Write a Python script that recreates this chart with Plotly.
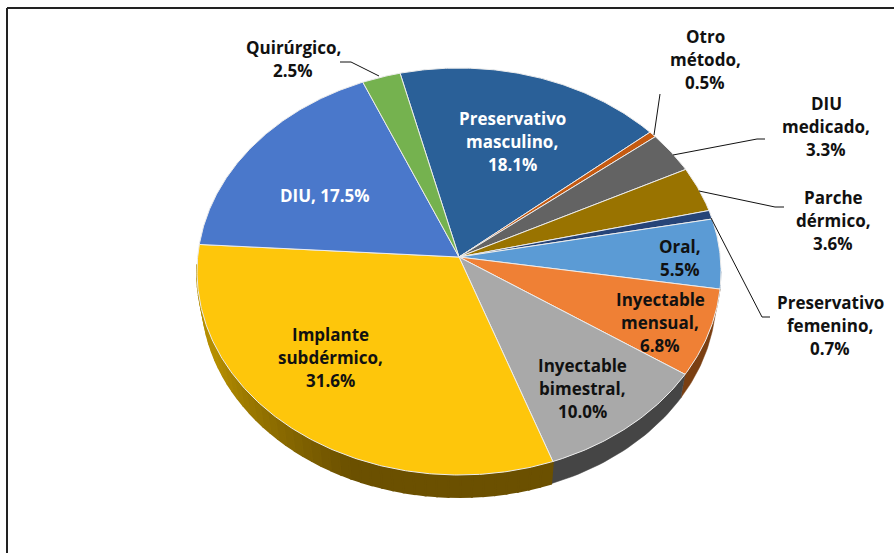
import numpy as np
import plotly.graph_objects as go

# Data (clockwise from the top)
categories = ["Preservativo masculino", "Otro método", "DIU medicado", "Parche dérmico",
              "Preservativo femenino", "Oral", "Inyectable mensual", "Inyectable bimestral",
              "Implante subdérmico", "DIU", "Quirúrgico"]
values = [18.1, 0.5, 3.3, 3.6, 0.7, 5.5, 6.8, 10.0, 31.6, 17.5, 2.5]
top_colors = ["#2a6098", "#c55a11", "#636363", "#997300", "#264478", "#5b9bd5",
              "#ef8035", "#a9a9a9", "#fec60b", "#4a78cb", "#75b24f"]
side_colors = ["#1a3c60", "#7a380a", "#3c3c3c", "#5c4500", "#16294a", "#37608a",
               "#7a3f12", "#454545", "#6b5000", "#2c4a80", "#45702c"]
label_texts = ["Preservativo<br>masculino,<br>18.1%", "Otro<br>método,<br>0.5%", "DIU<br>medicado,<br>3.3%",
               "Parche<br>dérmico,<br>3.6%", "Preservativo<br>femenino,<br>0.7%", "Oral,<br>5.5%",
               "Inyectable<br>mensual,<br>6.8%", "Inyectable<br>bimestral,<br>10.0%",
               "Implante<br>subdérmico,<br>31.6%", "DIU, 17.5%", "Quirúrgico,<br>2.5%"]
label_x = [512, 705, 826, 833, 830, 680, 660, 582, 330, 325, 293]
label_y = [141, 59, 126, 220, 325, 258, 322, 388, 357, 195, 59]
label_colors = ["white", "#111111", "#111111", "#111111", "#111111", "#111111",
                "#111111", "#111111", "#111111", "white", "#111111"]
leaders = [
    [(340, 62), (351, 62), (379, 76)],
    [(660, 94), (654, 135)],
    [(765, 139), (757, 139), (673, 155)],
    [(784, 207), (775, 207), (699, 191)],
    [(770, 317), (762, 317), (711, 218)],
]

# Projection of the tilted disc
APEX = (459, 257)
CX, CY, A, B = 459, 271.5, 262, 203.5      # top rim
CXB, CYB, AB, BB = 459, 297, 257, 200      # bottom rim
START = -13.0
LINE_STEP = 23


def perspective(u):
    """Pie angle (deg from start) -> projected rim parameter (deg)."""
    u = np.asarray(u, dtype=float)
    d = np.where(u < 200, -6.2 * np.sin(np.pi * u / 200), 2.6 * np.sin(np.pi * (u - 200) / 160))
    return START + u + d


def rim(theta, cx=CX, cy=CY, a=A, b=B):
    r = np.radians(theta)
    return cx + a * np.sin(r), cy - b * np.cos(r)


def shade(hex1, hex2, f):
    c1 = np.array([int(hex1[i:i + 2], 16) for i in (1, 3, 5)])
    c2 = np.array([int(hex2[i:i + 2], 16) for i in (1, 3, 5)])
    c = (c1 + (c2 - c1) * f).round().astype(int)
    return "#%02x%02x%02x" % tuple(c)


fig = go.Figure()
cum = np.concatenate([[0], np.cumsum(values)])
cum = cum / cum[-1] * 360

# Side walls
for i, cat in enumerate(categories):
    u0, u1 = cum[i], cum[i + 1]
    gradient = cat.startswith("Implante")
    n = 48 if gradient else 1
    edges = perspective(np.linspace(u0, u1, n + 1))
    for j in range(n):
        t0, t1 = max(edges[j], 90), min(edges[j + 1], 272)
        if t1 <= t0:
            continue
        ts = np.linspace(t0, t1, 30 if not gradient else 4)
        xt, yt = rim(ts)
        xb, yb = rim(ts, CXB, CYB, AB, BB)
        color = side_colors[i]
        if gradient:
            f = np.clip(((t0 + t1) / 2 - 205) / 45, 0, 1)
            color = shade(side_colors[i], "#b58e00", f)
        fig.add_trace(go.Scatter(x=np.r_[xt, xb[::-1], xt[0]], y=np.r_[yt, yb[::-1], yt[0]],
                                 mode="lines", fill="toself", fillcolor=color,
                                 line=dict(color=color, width=2 if gradient else 0.5),
                                 hoverinfo="skip", showlegend=False))

# Top faces
for i, cat in enumerate(categories):
    ts = perspective(np.linspace(cum[i], cum[i + 1], max(3, int((cum[i + 1] - cum[i]) * 2))))
    xr, yr = rim(ts)
    fig.add_trace(go.Scatter(x=np.r_[APEX[0], xr, APEX[0]], y=np.r_[APEX[1], yr, APEX[1]],
                             mode="lines", fill="toself", fillcolor=top_colors[i],
                             line=dict(color="#ececec", width=1),
                             name=cat, text=f"{cat}, {values[i]}%", hoverinfo="text", showlegend=False))

# Leader lines
for pts in leaders:
    fig.add_trace(go.Scatter(x=[p[0] for p in pts], y=[p[1] for p in pts], mode="lines",
                             line=dict(color="#111111", width=1), hoverinfo="skip", showlegend=False))

# Labels, one annotation per line for the exact line spacing
for t, x, y, c in zip(label_texts, label_x, label_y, label_colors):
    lines = t.split("<br>")
    for k, line in enumerate(lines):
        fig.add_annotation(x=x, y=y + (k - (len(lines) - 1) / 2) * LINE_STEP, text=f"<b>{line}</b>",
                           showarrow=False, xanchor="center", yanchor="middle",
                           font=dict(family="Open Sans", size=17, color=c))

# Frame
fig.add_shape(type="line", x0=7, x1=894, y0=8, y1=8, line=dict(color="#222222", width=2))
fig.add_shape(type="line", x0=7, x1=7, y0=8, y1=553, line=dict(color="#222222", width=2))

fig.update_layout(width=894, height=553, margin=dict(l=0, r=0, t=0, b=0),
                  paper_bgcolor="white", plot_bgcolor="white", showlegend=False,
                  xaxis=dict(range=[0, 894], visible=False, fixedrange=True),
                  yaxis=dict(range=[553, 0], visible=False, fixedrange=True))
fig.write_html("out.html", post_script="document.body.style.margin='0';document.body.style.overflow='hidden';",
               config=dict(displayModeBar=False))
